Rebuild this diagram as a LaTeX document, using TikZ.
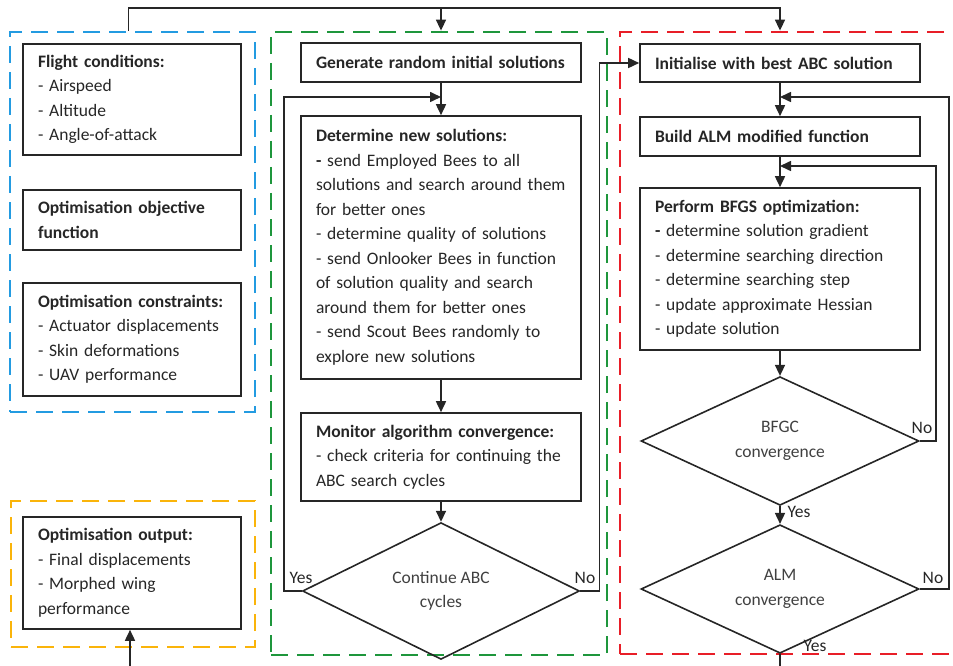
\documentclass[tikz,border=0pt]{standalone}
\usepackage{fontspec}
\setmainfont{Carlito}
\usetikzlibrary{shapes.geometric,arrows.meta}
\definecolor{frameblue}{RGB}{35,155,225}
\definecolor{framegreen}{RGB}{30,150,60}
\definecolor{framered}{RGB}{232,30,40}
\definecolor{frameyellow}{RGB}{250,180,10}
\tikzset{
	txt/.style={font=\fontsize{17.5}{24.5}\selectfont, text=black!85},
	box/.style={txt, draw=black!85, line width=1.6pt, align=left, inner xsep=15pt, inner ysep=0pt},
	decision/.style={txt, diamond, draw=black!85, line width=1.6pt, align=center, inner sep=0pt, text=black!75},
	frame/.style={draw, line width=2.8pt, dash pattern=on 17pt off 9pt, inner sep=0pt},
	arr/.style={draw=black!85, line width=1.6pt, -{Triangle[length=11pt,width=10pt]}},
	link/.style={draw=black!85, line width=1.6pt},
}
\begin{document}
\begin{tikzpicture}[x=1pt, y=-1pt]
			\useasboundingbox (0, 0) rectangle (953, 666);
			\clip (0, 0) rectangle (953, 666);

			\node[frame, draw=frameblue, minimum width=245pt, minimum height=380pt] (blueframe) at(132.5, 222){};
			\node[frame, draw=frameyellow, minimum width=244pt, minimum height=146pt] (yellowframe) at(133, 574){};
			\node[frame, draw=framegreen, minimum width=336pt, minimum height=623pt] (greenframe) at(439, 343.5){};
			\node[frame, draw=framered, minimum width=345pt, minimum height=622pt] (redframe) at(792.5, 343){};

			\node[box, text width=188pt, minimum height=111pt] (flight) at(132, 99.5){\textbf{Flight conditions:}\\- Airspeed\\- Altitude\\- Angle-of-attack};
			\node[box, text width=188pt, minimum height=60pt] (objective) at(132, 220){\textbf{Optimisation objective}\\\textbf{function}};
			\node[box, text width=188pt, minimum height=113pt] (constraints) at(132, 339.5){\textbf{Optimisation constraints:}\\- Actuator displacements\\- Skin deformations\\- UAV performance};
			\node[box, text width=188pt, minimum height=112pt] (output) at(132, 573){\textbf{Optimisation output:}\\- Final displacements\\- Morphed wing\\performance};

			\node[box, text width=250pt, minimum height=39pt] (generate) at(441, 62.5){\textbf{Generate random initial solutions}};
			\node[box, text width=250pt, minimum height=263pt] (determine) at(441, 247.5){\textbf{Determine new solutions:}\\\textbf{-} send Employed Bees to all\\solutions and search around them\\for better ones\\- determine quality of solutions\\- send Onlooker Bees in function\\of solution quality and search\\around them for better ones\\- send Scout Bees randomly to\\explore new solutions};
			\node[box, text width=250pt, minimum height=88pt] (monitor) at(441, 457){\textbf{Monitor algorithm convergence:}\\- check criteria for continuing the\\ABC search cycles};
			\node[decision, minimum width=277pt, minimum height=112pt] (cont) at(441, 591){Continue ABC\\cycles};

			\node[box, text width=250pt, minimum height=38pt] (init) at(780, 63){\textbf{Initialise with best ABC solution}};
			\node[box, text width=250pt, minimum height=39pt] (build) at(780, 136.5){\textbf{Build ALM modified function}};
			\node[box, text width=250pt, minimum height=162pt] (bfgs) at(780, 269){\textbf{Perform BFGS optimization:}\\\textbf{-} determine solution gradient\\- determine searching direction\\- determine searching step\\- update approximate Hessian\\- update solution};
			\node[decision, minimum width=278pt, minimum height=112pt] (bfgc) at(780, 441){BFGC\\convergence};
			\node[decision, minimum width=278pt, minimum height=112pt] (alm) at(780, 589){ALM\\convergence};

			\coordinate (top) at(0, 8);
			\coordinate (yesjoin) at(441, 97);
			\coordinate (almjoin) at(780, 97);
			\coordinate (bfgcjoin) at(780, 166);
			\coordinate (bottom) at(0, 670);

			\draw[arr] ([xshift=-4pt]blueframe.north) |- (top -| init.north) -- (init.north |- redframe.north);
			\draw[arr] (generate.north |- top) -- (generate.north |- greenframe.north);
			\draw[arr] ([xshift=-2pt]output.south |- bottom) -- ([xshift=-2pt]output.south);

			\draw[arr] (generate) -- (determine);
			\draw[arr] (determine) -- (monitor);
			\draw[arr] (monitor) -- (cont);
			\draw[arr] (cont.west) -- ++(-18, 0) |- (yesjoin);
			\draw[arr] (cont.east) -- ++(19, 0) |- (init.west);
				\node[txt] (yescont) at(301, 578){Yes};
				\node[txt] (nocont) at(585, 578){No};

			\draw[arr] (init) -- (build);
			\draw[arr] (build) -- (bfgs);
			\draw[arr] (bfgs) -- (bfgc);
			\draw[arr] (bfgc) -- (alm);
			\draw[arr] (bfgc.east) -- ++(16, 0) |- (bfgcjoin);
			\draw[arr] (alm.east) -- ++(29, 0) |- (almjoin);
			\draw[link] (alm.south) -- (alm.south |- bottom);
				\node[txt] (nobfgc) at(922, 428){No};
				\node[txt] (yesbfgc) at(799, 512){Yes};
				\node[txt] (noalm) at(933, 578){No};
				\node[txt] (yesalm) at(815, 646){Yes};

		\end{tikzpicture}
\end{document}
